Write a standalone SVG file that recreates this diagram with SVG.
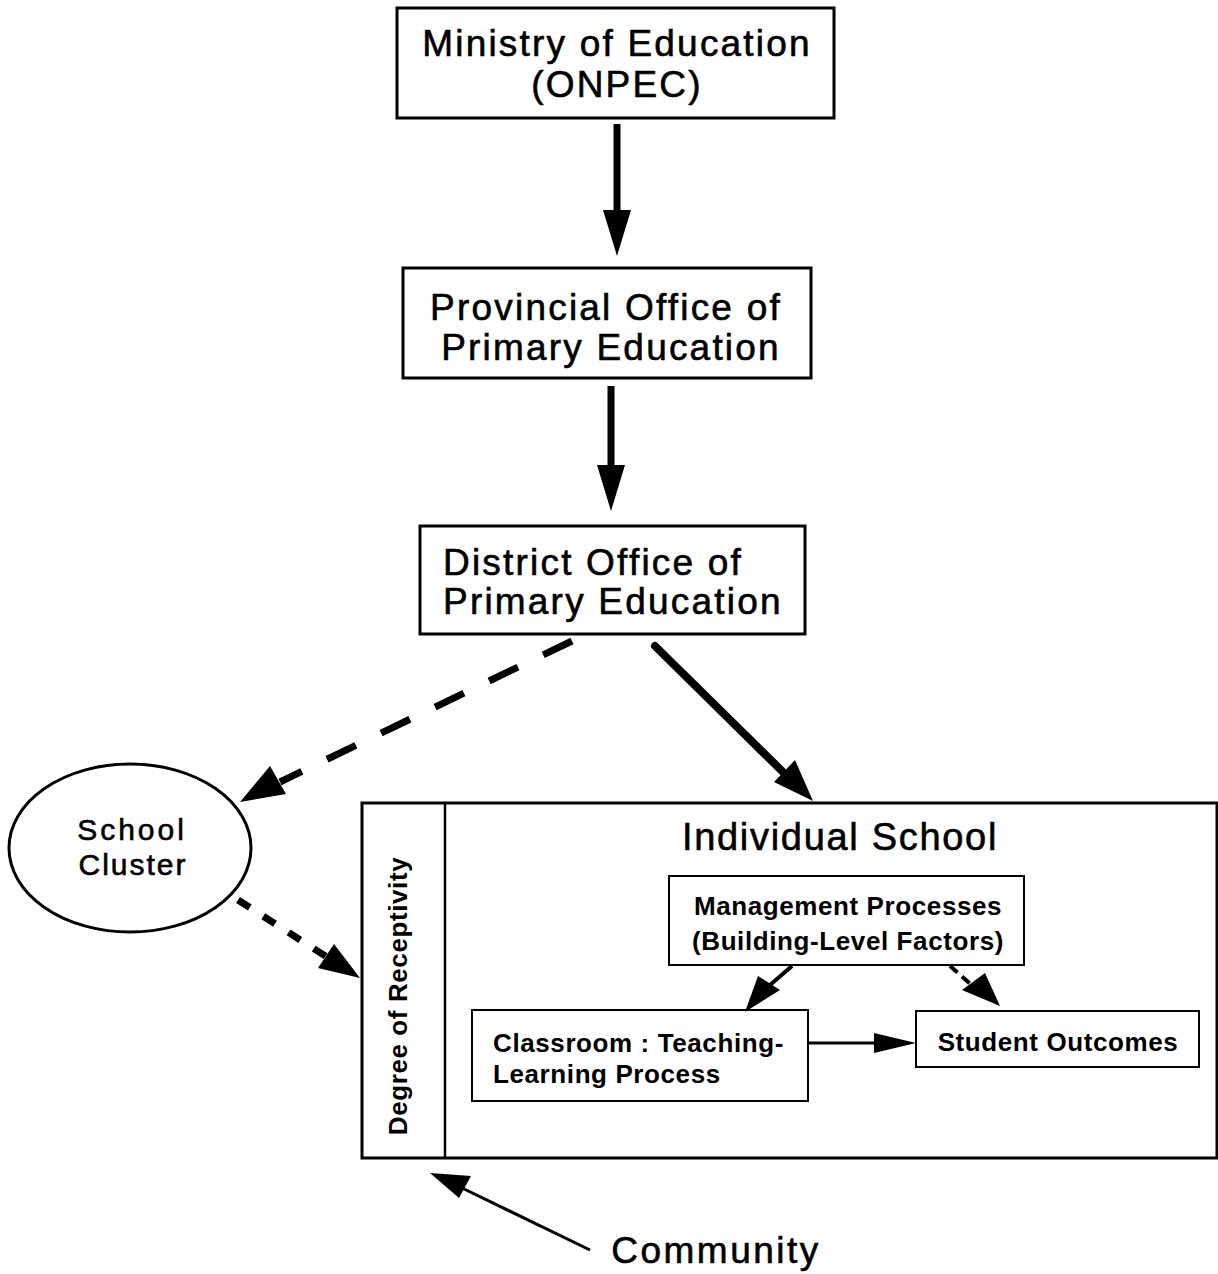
<svg xmlns="http://www.w3.org/2000/svg" width="1218" height="1274" viewBox="0 0 1218 1274">
<style>
.box{fill:#fff;stroke:#000;stroke-width:3}
.thin{fill:#fff;stroke:#000;stroke-width:2}
.t{font-family:"Liberation Sans",Arial,sans-serif;fill:#000;text-anchor:middle;stroke:#000;stroke-width:0.6}
.big{font-size:37px;letter-spacing:2.2px}
.sm{font-size:26px;font-weight:bold;stroke-width:0;letter-spacing:0.6px}
.c{stroke:#000;fill:none}
</style>
<rect width="1218" height="1274" fill="#fff"/>
<g id="ministry">
<rect class="box" x="397" y="8" width="437" height="110"/>
<text class="t big" x="617" y="56">Ministry of Education</text>
<text class="t big" x="617" y="97">(ONPEC)</text>
</g>
<g id="provincial">
<rect class="box" x="403" y="268" width="408" height="110"/>
<text class="t big" x="606" y="320">Provincial Office of</text>
<text class="t big" x="611" y="360">Primary Education</text>
</g>
<g id="district">
<rect class="box" x="420" y="526" width="385" height="108"/>
<text class="t big" x="443" y="575" style="text-anchor:start">District Office of</text>
<text class="t big" x="443" y="614" style="text-anchor:start">Primary Education</text>
</g>
<g id="cluster">
<ellipse cx="130" cy="848" rx="121" ry="84" fill="#fff" stroke="#000" stroke-width="3"/>
<text class="t" x="132" y="840" font-size="30" letter-spacing="3">School</text>
<text class="t" x="133" y="875" font-size="30" letter-spacing="2">Cluster</text>
</g>
<g id="individual-school">
<rect class="box" x="362" y="803" width="855" height="355"/>
<line x1="445" y1="803" x2="445" y2="1158" stroke="#000" stroke-width="2.5"/>
<text class="t sm" transform="translate(407,996) rotate(-90)" font-size="26">Degree of Receptivity</text>
<text class="t" x="840" y="850" font-size="38" letter-spacing="1.7">Individual School</text>
</g>
<g id="management">
<rect class="thin" x="669" y="876" width="355" height="89"/>
<text class="t sm" x="848" y="915">Management Processes</text>
<text class="t sm" x="848" y="950">(Building-Level Factors)</text>
</g>
<g id="classroom">
<rect class="thin" x="472" y="1010" width="336" height="91"/>
<text class="t sm" x="493" y="1052" style="text-anchor:start">Classroom : Teaching-</text>
<text class="t sm" x="493" y="1083" style="text-anchor:start">Learning Process</text>
</g>
<g id="outcomes">
<rect class="thin" x="916" y="1011" width="283" height="56"/>
<text class="t sm" x="1058" y="1051">Student Outcomes</text>
</g>
<g id="community">
<text class="t big" x="716" y="1263" style="letter-spacing:2.5px">Community</text>
</g>
<g id="connectors">
<line class="c" x1="617" y1="124" x2="617" y2="215" stroke-width="7"/>
<polygon points="603,210 631,210 617,256" fill="#000"/>
<line class="c" x1="611" y1="386" x2="611" y2="470" stroke-width="7"/>
<polygon points="597,465 625,465 611,511" fill="#000"/>
<line class="c" x1="572" y1="641" x2="280" y2="782" stroke-width="7" stroke-dasharray="32,28"/>
<polygon points="240,802 270,766 286,794" fill="#000"/>
<line class="c" x1="655" y1="646" x2="785" y2="774" stroke-width="8" stroke-linecap="round"/>
<polygon points="813,801 774,782 795,760" fill="#000"/>
<line class="c" x1="238" y1="900" x2="330" y2="959" stroke-width="7" stroke-dasharray="14,16"/>
<polygon points="360,978 318,968 334,944" fill="#000"/>
<line class="c" x1="792" y1="966" x2="770" y2="985" stroke-width="4"/>
<polygon points="745,1012 758,976 780,990" fill="#000"/>
<line class="c" x1="950" y1="966" x2="975" y2="988" stroke-width="4" stroke-dasharray="10,6"/>
<polygon points="1000,1006 962,990 985,973" fill="#000"/>
<line class="c" x1="809" y1="1043" x2="880" y2="1043" stroke-width="3"/>
<polygon points="916,1043 874,1033 874,1053" fill="#000"/>
<line class="c" x1="590" y1="1250" x2="460" y2="1187" stroke-width="3"/>
<polygon points="430,1173 471,1176 459,1198" fill="#000"/>
</g>
</svg>
